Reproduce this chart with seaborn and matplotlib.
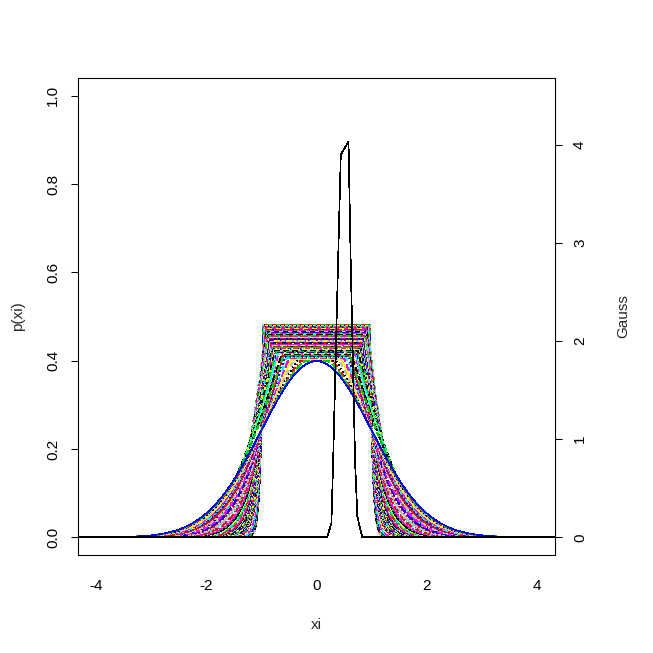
import numpy as np
import pandas as pd
import matplotlib
matplotlib.use("Agg")
import matplotlib.pyplot as plt
import seaborn as sns

sns.set_style("white")
plt.rcParams['font.family'] = ['Liberation Sans', 'DejaVu Sans']
plt.rcParams['axes.unicode_minus'] = False
plt.rcParams['lines.scale_dashes'] = False

# flat tops of the p(xi) curves: half width vs height
corner_x = [0.0, 0.45, 0.75, 0.85, 0.93]
corner_p = [0.399, 0.40, 0.42, 0.45, 0.48]
# tilt of the curves that all cross the plain gauss near |xi| = 1 (waist)
tilt_a = [0.03, 0.06, 0.1, 0.15, 0.21, 0.28, 0.36, 0.45] + \
    list(np.round(np.linspace(0.55, 9.0, 50), 2)) + \
    [10, 11, 12.2, 13.5, 15, 16.7, 18.5, 20.5, 22.5]
pivot_a = 1.0
# outer flank: highest flat top reaches out to (1.14, 0.265)
flank_x, flank_p = 1.14, 0.265
n_b = 33
xi = np.linspace(-3.5, 3.5, 701)

# old R palette and R line types, cycled over the curves
pal8 = ["#000000", "#FF0000", "#00CD00", "#0000FF",
        "#00FFFF", "#FF00FF", "#FFFF00", "#BEBEBE"]
lty5 = ["", (2.9, 2.9), (0.72, 2.2), (0.72, 2.2, 2.9, 2.2), (5.0, 2.2)]

# black "Gauss" curve (right axis)
gauss_x = [-5.0, 0.19, 0.27, 0.30, 0.39, 0.44, 0.58, 0.62, 0.70, 0.74, 0.83, 5.0]
gauss_y = [0.0, 0.0, 0.14, 0.75, 2.79, 3.90, 4.03, 2.79, 0.75, 0.21, 0.0, 0.0]


def dnorm(x):
    return np.exp(-x ** 2 / 2) / np.sqrt(2 * np.pi)


# family A: pivot at |xi| = 1, cap taken from the flat-top table
h_grid = np.linspace(0.3995, 0.48, 400)
b_grid = np.interp(h_grid, corner_p, corner_x)
m_grid = np.log(h_grid / dnorm(b_grid)) / (pivot_a - b_grid)
tilt_a = np.array(tilt_a)
cap_a = np.interp(tilt_a, m_grid, h_grid)
piv_a = np.full(len(tilt_a), pivot_a)

# family B: gentle tilt, flat top on the table, reaching the outer flank
cap_b = np.linspace(0.48, 0.41, n_b)
b_b = np.interp(cap_b, corner_p, corner_x)
m_top = np.log((0.48 / dnorm(0.93)) / (flank_p / dnorm(flank_x))) / (flank_x - 0.93)
tilt_b = m_top * (cap_b - 0.399) / (0.48 - 0.399)
piv_b = b_b + np.log(cap_b / dnorm(b_b)) / tilt_b

caps = np.concatenate([cap_a, cap_b, [0.399]])
tilts = np.concatenate([tilt_a, tilt_b, [0.0]])
pivs = np.concatenate([piv_a, piv_b, [1.0]])
idx = np.argsort(-caps - 1e-6 * tilts, kind="stable")
caps, tilts, pivs = caps[idx], tilts[idx], pivs[idx]
n_all = len(caps)

frames = []
for i in range(n_all):
    p = np.minimum(dnorm(xi) * np.exp(tilts[i] * (pivs[i] - np.abs(xi))), caps[i])
    frames.append(pd.DataFrame({"xi": xi, "p": p, "curve": f"c{i:03d}"}))
df = pd.concat(frames, ignore_index=True)

order = [f"c{i:03d}" for i in range(n_all)]
shift = (3 - (n_all - 1)) % 8
colors = {c: pal8[(i + shift) % 8] for i, c in enumerate(order)}
dashes = {c: lty5[(i - n_all + 1) % 5] for i, c in enumerate(order)}

fig = plt.figure(figsize=(6.53, 6.53), dpi=100)
ax = fig.add_axes([78 / 653, 98 / 653, 477 / 653, 477 / 653])

sns.lineplot(data=df, x="xi", y="p", hue="curve", hue_order=order,
             style="curve", style_order=order, dashes=dashes,
             palette=colors, estimator=None, sort=False, legend=False,
             linewidth=0.5, antialiased=False, ax=ax)

fs = 11
ax.set_xlim(-4.32, 4.32)
ax.set_ylim(-0.04, 1.04)
ax.set_xticks([-4, -2, 0, 2, 4])
ax.set_xticklabels(["-4", "-2", "0", "2", "4"])
ax.set_yticks([0, 0.2, 0.4, 0.6, 0.8, 1.0])
ax.set_yticklabels(["0.0", "0.2", "0.4", "0.6", "0.8", "1.0"],
                   rotation=90, va="center")
ax.tick_params(direction="out", length=5, width=0.75, labelsize=fs,
               colors="black")
ax.tick_params(axis="x", pad=12)
ax.tick_params(axis="y", pad=8)
ax.set_xlabel("xi", fontsize=fs)
ax.set_ylabel("p(xi)", fontsize=fs)
ax.xaxis.set_label_coords(0.5, -0.147)
ax.xaxis.label.set_va("center")
ax.yaxis.set_label_coords(-0.126, 0.5)
ax.yaxis.label.set_va("center")

ax2 = ax.twinx()
sns.lineplot(x=gauss_x, y=gauss_y, color="black", sort=False,
             linewidth=0.5, antialiased=False, ax=ax2)
ax2.set_ylim(-0.18, 4.68)
ax2.set_yticks([0, 1, 2, 3, 4])
ax2.set_yticklabels(["0", "1", "2", "3", "4"], rotation=90, va="center")
ax2.tick_params(direction="out", length=5, width=0.75, labelsize=fs,
                colors="black", pad=8)
ax2.set_ylabel("Gauss", fontsize=fs, rotation=90)
ax2.yaxis.set_label_coords(1.1426, 0.5)
ax2.yaxis.label.set_va("center")

for a in (ax, ax2):
    for s in a.spines.values():
        s.set_color("black")
        s.set_linewidth(0.75)

fig.savefig("out.png", dpi=100)
